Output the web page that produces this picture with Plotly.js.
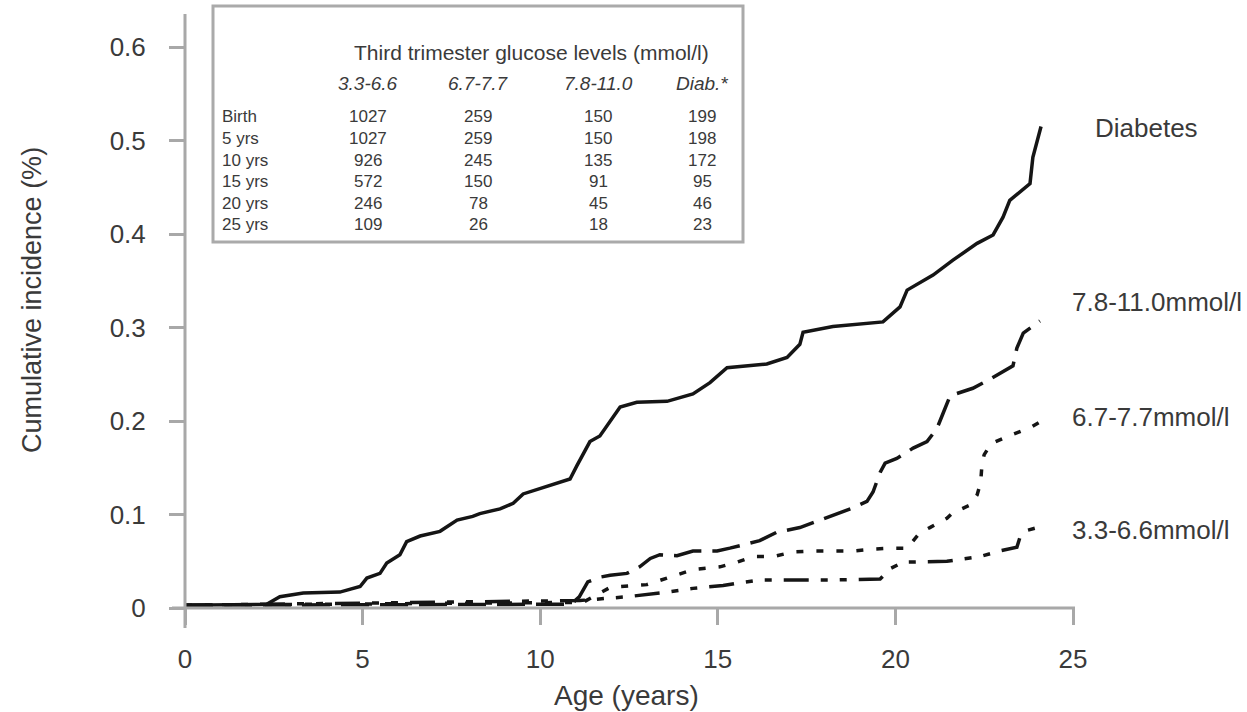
<!DOCTYPE html>
<html>
<head>
<meta charset="utf-8">
<script src="https://cdn.plot.ly/plotly-3.0.1.min.js"></script>
<style>
  html, body { margin: 0; padding: 0; background: #fff; }
  #chart { width: 1247px; height: 712px; }
</style>
</head>
<body>
<div id="chart"></div>
<script>
// Cumulative incidence curves by third-trimester glucose group
const diabAge = [0, 2.3, 2.67, 3.33, 4.36, 4.93, 5.12, 5.49, 5.68, 6.05, 6.24, 6.62, 7.18, 7.66, 8.1, 8.3, 8.87, 9.24, 9.52, 10.19, 10.84, 11.03, 11.3, 11.4, 11.68, 12.05, 12.25, 12.72, 13.57, 14.3, 14.78, 15.26, 16.38, 16.95, 17.31, 17.4, 18.24, 19.65, 20.13, 20.33, 21.06, 21.62, 22.3, 22.75, 23.03, 23.22, 23.79, 23.87, 24.1];
const diabVal = [0.003, 0.004, 0.012, 0.016, 0.017, 0.023, 0.032, 0.037, 0.048, 0.057, 0.071, 0.077, 0.082, 0.094, 0.098, 0.101, 0.106, 0.112, 0.122, 0.130, 0.138, 0.152, 0.170, 0.178, 0.184, 0.205, 0.215, 0.220, 0.221, 0.229, 0.241, 0.257, 0.261, 0.268, 0.282, 0.295, 0.301, 0.306, 0.322, 0.340, 0.356, 0.372, 0.390, 0.399, 0.418, 0.436, 0.454, 0.482, 0.515];

const highAge = [0, 10.87, 11.1, 11.34, 11.68, 11.97, 12.44, 12.8, 13.1, 13.37, 13.85, 14.3, 14.98, 15.34, 16.18, 16.66, 17.31, 17.68, 18.24, 18.8, 19.2, 19.37, 19.57, 19.71, 20.04, 20.5, 20.89, 21.17, 21.34, 21.54, 22.18, 22.58, 23.31, 23.42, 23.6, 24.07];
const highVal = [0.003, 0.004, 0.012, 0.028, 0.033, 0.035, 0.037, 0.044, 0.053, 0.057, 0.056, 0.061, 0.061, 0.064, 0.072, 0.081, 0.086, 0.091, 0.099, 0.107, 0.114, 0.124, 0.145, 0.155, 0.160, 0.171, 0.178, 0.192, 0.208, 0.227, 0.235, 0.243, 0.259, 0.278, 0.294, 0.307];

const midAge = [0, 6.5, 9.0, 11.2, 11.97, 13.0, 13.57, 14.3, 15.06, 15.54, 15.99, 16.57, 17.12, 17.68, 18.8, 19.37, 19.93, 20.33, 20.7, 20.97, 21.45, 21.62, 22.1, 22.3, 22.4, 22.44, 22.5, 22.7, 23.25, 23.8, 24.07];
const midVal = [0.003, 0.005, 0.006, 0.006, 0.022, 0.025, 0.032, 0.041, 0.044, 0.049, 0.055, 0.055, 0.060, 0.061, 0.061, 0.063, 0.064, 0.064, 0.081, 0.086, 0.096, 0.102, 0.110, 0.121, 0.134, 0.155, 0.164, 0.176, 0.185, 0.193, 0.199];

const lowAge = [0, 11.12, 12.44, 13.37, 14.3, 15.15, 15.62, 16.18, 17.12, 18.24, 19.57, 19.85, 20.22, 20.89, 21.45, 22.38, 22.94, 23.42, 23.51, 23.7, 24.0];
const lowVal = [0.003, 0.008, 0.012, 0.016, 0.021, 0.024, 0.027, 0.030, 0.030, 0.030, 0.031, 0.042, 0.049, 0.050, 0.050, 0.055, 0.061, 0.065, 0.076, 0.083, 0.086];

const seriesNames = ['Diabetes', '7.8-11.0mmol/l', '6.7-7.7mmol/l', '3.3-6.6mmol/l'];

// Numbers at risk table
const tableTitle = 'Third trimester glucose levels (mmol/l)';
const tableColumns = ['3.3-6.6', '6.7-7.7', '7.8-11.0', 'Diab.*'];
const tableRows = ['Birth', '5 yrs', '10 yrs', '15 yrs', '20 yrs', '25 yrs'];
const atRisk_3_3 = [1027, 1027, 926, 572, 246, 109];
const atRisk_6_7 = [259, 259, 245, 150, 78, 26];
const atRisk_7_8 = [150, 150, 135, 91, 45, 18];
const atRisk_diab = [199, 198, 172, 95, 46, 23];

const xTicks = [0, 5, 10, 15, 20, 25];
const yTicks = [0, 0.1, 0.2, 0.3, 0.4, 0.5, 0.6];
const yTickText = ['0', '0.1', '0.2', '0.3', '0.4', '0.5', '0.6'];

// Pixel frame of the plotting area
const W = 1247, H = 712;
const L = 185, R = 1073, T = 47, B = 608;
const px = x => (x - L) / (R - L);
const py = y => (B - y) / (B - T);

const FONT = 'Liberation Sans, Arial, sans-serif';
const TXT = '#3a3a3a';
const AX = '#a8a8a8';
const INK = '#151515';

const traces = [
  { x: diabAge, y: diabVal, name: seriesNames[0], mode: 'lines', line: { color: INK, width: 3.5 } },
  { x: highAge, y: highVal, name: seriesNames[1], mode: 'lines', line: { color: INK, width: 3.5, dash: '28px,11px' } },
  { x: midAge, y: midVal, name: seriesNames[2], mode: 'lines', line: { color: INK, width: 3.5, dash: '7px,13px' } },
  { x: lowAge, y: lowVal, name: seriesNames[3], mode: 'lines', line: { color: INK, width: 3.5, dash: '25px,12px,7px,12px,7px,12px' } }
];

const annotations = [];
const shapes = [];

function label(x, y, text, size, opts) {
  annotations.push(Object.assign({
    xref: 'paper', yref: 'paper', x: px(x), y: py(y), text: text,
    xanchor: 'center', yanchor: 'middle', showarrow: false,
    font: { family: FONT, size: size, color: TXT }
  }, opts || {}));
}

// Axis lines, extended past the origin
shapes.push({ type: 'line', xref: 'paper', yref: 'paper', x0: 0, x1: 0, y0: py(628), y1: py(14), line: { color: AX, width: 3 } });
shapes.push({ type: 'line', xref: 'paper', yref: 'paper', x0: px(172), x1: px(1075), y0: 0, y1: 0, line: { color: AX, width: 3 } });

// Axis titles
label(32, 300, 'Cumulative incidence (%)', 27, { textangle: -90 });
label(626, 696, 'Age (years)', 28);

// Curve end labels
const endLabelY = [128, 302, 417, 530];
const endLabelX = [1093, 1070, 1070, 1070];
seriesNames.forEach((s, i) => label(endLabelX[i], endLabelY[i], s, 26, { xanchor: 'left' }));

// Table frame
shapes.push({ type: 'rect', xref: 'paper', yref: 'paper', x0: px(213), x1: px(743), y0: py(242), y1: py(6), fillcolor: '#ffffff', line: { color: '#aaaaaa', width: 3 }, layer: 'below' });

label(531, 52, tableTitle, 21);
const colX = [368, 478, 598, 702];
tableColumns.forEach((c, j) => label(colX[j], 84, '<i>' + c + '</i>', 19));
const rowY = [117, 138, 160, 182, 203, 225];
const cols = [atRisk_3_3, atRisk_6_7, atRisk_7_8, atRisk_diab];
tableRows.forEach((r, i) => {
  label(220, rowY[i], r, 17, { xanchor: 'left' });
  cols.forEach((col, j) => label(colX[j], rowY[i], String(col[i]), 17));
});

const layout = {
  width: W, height: H,
  margin: { l: L, r: W - R, t: T, b: H - B },
  paper_bgcolor: '#ffffff', plot_bgcolor: 'rgba(0,0,0,0)',
  showlegend: false,
  xaxis: {
    range: [0, 25], tickvals: xTicks, ticks: 'outside', ticklen: 16, tickwidth: 3, tickcolor: AX,
    showgrid: false, zeroline: false, showline: false,
    tickfont: { family: FONT, size: 26, color: TXT }, ticklabelstandoff: 12
  },
  yaxis: {
    range: [0, 0.6], tickvals: yTicks, ticktext: yTickText, ticks: 'outside', ticklen: 15, tickwidth: 3, tickcolor: AX,
    showgrid: false, zeroline: false, showline: false,
    tickfont: { family: FONT, size: 26, color: TXT }, ticklabelstandoff: 18
  },
  shapes: shapes,
  annotations: annotations
};

Plotly.newPlot('chart', traces, layout, { displayModeBar: false, staticPlot: true });
</script>
</body>
</html>
